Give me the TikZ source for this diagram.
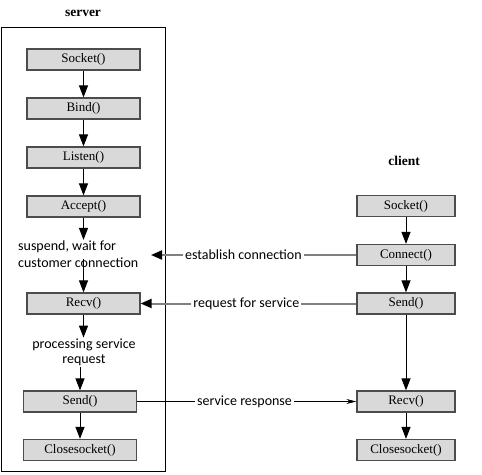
\documentclass[tikz,border=0pt]{standalone}
\usepackage{fontspec}
\setmainfont{Liberation Serif}
\newfontfamily\notefont{Carlito}
\usetikzlibrary{arrows.meta,positioning,calc}

\begin{document}
\begin{tikzpicture}[x=1pt,y=-1pt,
	call/.style={draw=black!70,line width=1.2pt,fill=black!15,minimum width=113pt,minimum height=21pt,inner sep=0pt,font=\fontsize{13}{14}\selectfont},
	ccall/.style={call,minimum width=98pt},
	title/.style={font=\fontsize{13.5}{15}\selectfont\bfseries},
	note/.style={font=\notefont\fontsize{14}{17}\selectfont,inner sep=1pt},
	flow/.style={-{Triangle[length=12pt,width=9pt]},line width=1pt},
	msg/.style={-{Triangle[length=11pt,width=9pt,black]},draw=black!50,line width=2pt},
	resp/.style={-{Stealth[length=10pt,width=5pt]},line width=0.8pt}]
	\useasboundingbox (0,0) rectangle (482,474);
	
	% Server side
	\draw[line width=0.8pt] (1,27) rectangle (165,471);
	\node[title] (srv) at (83,13) {server};
	\node[call] (ssock) at (83.5,59.5) {Socket()};
	\node[call] (sbind) at (83.5,108.5) {Bind()};
	\node[call] (slisten) at (83.5,157.5) {Listen()};
	\node[call] (saccept) at (83.5,206.5) {Accept()};
	\node[note,align=left,anchor=west] (wait) at (17,254.5) {suspend, wait for\\customer connection};
	\node[call] (srecv) at (83.5,303.5) {Recv()};
	\node[note,align=center,font=\notefont\fontsize{14}{15.5}\selectfont] (proc) at (84,352.5) {processing service\\request};
	\node[call] (ssend) at (80,401.5) {Send()};
	\node[call] (sclose) at (80,450) {Closesocket()};
	
	\draw[flow] (ssock) -- (sbind);
	\draw[flow] (sbind) -- (slisten);
	\draw[flow] (slisten) -- (saccept);
	\draw[flow] (saccept) -- (saccept.south |- wait.north);
	\draw[flow] ($(srecv.north |- wait.center)+(0,4.5)$) -- (srecv);
	\draw[flow] (srecv) -- (srecv.south |- proc.north);
	\draw[flow] (ssend.north |- proc.south) -- (ssend);
	\draw[flow] (ssend) -- (sclose);
	
	% Client side
	\node[title] (cli) at (404,161) {client};
	\node[ccall] (csock) at (406,206) {Socket()};
	\node[ccall] (cconn) at (406,255) {Connect()};
	\node[ccall] (csend) at (406,303.5) {Send()};
	\node[ccall] (crecv) at (406,401.5) {Recv()};
	\node[ccall] (cclose) at (406,450) {Closesocket()};
	
	\draw[flow] (csock) -- (cconn);
	\draw[flow] (cconn) -- (csend);
	\draw[flow] (csend) -- (crecv);
	\draw[flow] (crecv) -- (cclose);
	
	% Messages
	\coordinate (waitin) at (151,255);
	\draw[msg] (cconn) -- node[note,fill=white,inner xsep=2pt,pos=0.55] {establish connection} (waitin);
	\draw[msg] (csend) -- node[note,fill=white,inner xsep=2pt,pos=0.51] {request for service} (srecv);
	\draw[resp] (ssend) -- node[note,fill=white,inner xsep=2pt,pos=0.49] {service response} (crecv);
\end{tikzpicture}
\end{document}
